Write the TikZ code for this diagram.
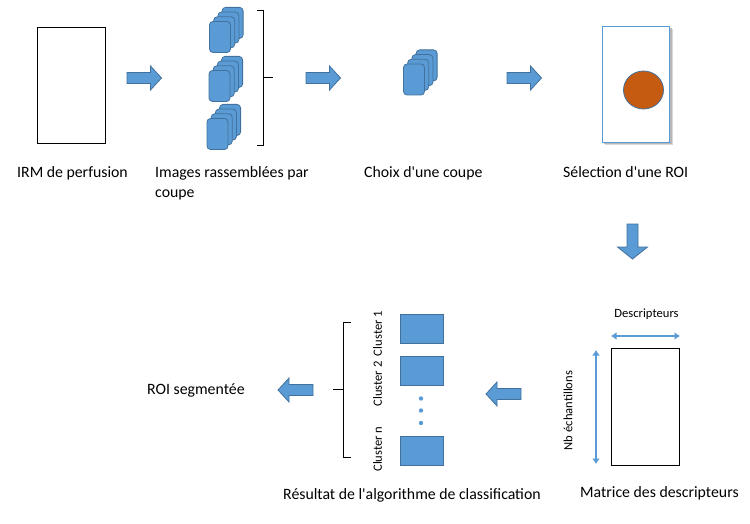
\documentclass[tikz,border=0pt]{standalone}
\usepackage{fontspec}
\setmainfont{Carlito}[Ligatures=TeXOff]
\usetikzlibrary{arrows.meta,shapes.geometric}
\definecolor{cblue}{HTML}{5B9BD5}
\definecolor{cedge}{HTML}{41719C}
\definecolor{corange}{HTML}{C55A11}
\tikzset{
  barrow/.style={fill=cblue,draw=cedge,line width=0.8pt},
  card/.style={fill=cblue,draw=cedge,line width=0.8pt,rounded corners=3.5pt},
  lbl/.style={font=\fontsize{15.8}{18}\selectfont,anchor=base west,inner sep=0pt},
  slbl/.style={font=\fontsize{12.6}{14}\selectfont,inner sep=0pt},
  frame/.style={draw=black,line width=1.3pt},
  brk/.style={draw=black,line width=0.9pt},
  dbl/.style={draw=cblue,line width=2.8pt,{Latex[length=5.5pt,width=8pt]}-{Latex[length=5.5pt,width=8pt]}},
  clus/.style={fill=cblue,draw=cedge,line width=0.8pt},
}
% right block arrow: #1 x-left, #2 x-tip, #3 y-center
\newcommand\rblock[3]{%
  \draw[barrow] (#1,#3-5.5) -- (#2-11,#3-5.5) -- (#2-11,#3-12) -- (#2,#3)
   -- (#2-11,#3+12) -- (#2-11,#3+5.5) -- (#1,#3+5.5) -- cycle;}
\newcommand\lblock[3]{%
  \draw[barrow] (#1,#3-5.5) -- (#2+11,#3-5.5) -- (#2+11,#3-12) -- (#2,#3)
   -- (#2+11,#3+12) -- (#2+11,#3+5.5) -- (#1,#3+5.5) -- cycle;}
% card stack: front card top-left #1,#2
\newcommand\cstack[2]{%
  \foreach \k in {3,2,1,0}{%
    \draw[card] (#1+4.2*\k,#2-4.7*\k) rectangle ++(21,31);}}
\begin{document}
\begin{tikzpicture}[x=1pt,y=-1pt]
\useasboundingbox[fill=white] (0,0) rectangle (750,524);

% --- top row ---
\node[frame,minimum width=68,minimum height=116,inner sep=0pt,anchor=north west] (irm) at (37,27) {};
\node[lbl] (tirm) at (17,178) {IRM de perfusion};

\rblock{127}{161.5}{78}

\cstack{209.5}{21.5}
\cstack{209}{70.5}
\cstack{207}{118.5}
\coordinate (b1) at (257,10);
\coordinate (b2) at (263,10);
\coordinate (b3) at (263,145);
\coordinate (b4) at (257,145);
\coordinate (bm) at (263,77.5);
\coordinate (bt) at (273,77.5);
\draw[brk] (b1) -- (b2) -- (b3) -- (b4);
\draw[brk] (bm) -- (bt);
\node[lbl] (timg1) at (155,178) {Images rassemblées par};
\node[lbl] (timg2) at (155,197) {coupe};

\rblock{306}{340.5}{78}

\cstack{403.5}{64}
\node[lbl] (tchoix) at (364,178) {Choix d'une coupe};

\rblock{507}{541.5}{78}

\fill[black!15] (604.5,29) rectangle (672.5,145.5);
\fill[black!28] (604,28.5) rectangle (671.5,144.5);
\node[draw=cblue,fill=white,line width=1pt,minimum width=67,minimum height=116,inner sep=0pt,anchor=north west] (roi) at (602,26) {};
\node[ellipse,fill=corange,draw=cedge,line width=0.8pt,minimum width=40,minimum height=38,inner sep=0pt] (circ) at (643.5,90) {};
\node[lbl] (tsel) at (563,178) {Sélection d'une ROI};

% down arrow
\draw[barrow] (627,224) -- (638,224) -- (638,247) -- (647.5,247) -- (632.5,259)
  -- (617.5,247) -- (627,247) -- cycle;

% --- bottom row ---
\node[slbl] (tdesc) at (646.5,314) {Descripteurs};
\coordinate (h1) at (611,336);
\coordinate (h2) at (680,336);
\draw[dbl] (h1) -- (h2);
\node[draw=black,line width=1pt,minimum width=68,minimum height=117,inner sep=0pt,anchor=north west] (mat) at (610.5,347.5) {};
\coordinate (v1) at (596,350);
\coordinate (v2) at (596,464);
\draw[dbl] (v1) -- (v2);
\node[slbl,rotate=90] (tnb) at (568,410.5) {Nb échantillons};
\node[lbl] (tmat) at (580,497) {Matrice des descripteurs};

\lblock{521}{486}{394}

\node[clus,minimum width=43,minimum height=29,inner sep=0pt,anchor=north west] (c1) at (400,314) {};
\node[clus,minimum width=43,minimum height=29,inner sep=0pt,anchor=north west] (c2) at (400,356) {};
\node[clus,minimum width=43,minimum height=29,inner sep=0pt,anchor=north west] (cn) at (400,436) {};
\foreach \yy in {398.5,410.5,423}{\fill[cblue] (421,\yy) circle (2.2);}
\node[slbl,rotate=90] (tc1) at (377.5,333.5) {Cluster 1};
\node[slbl,rotate=90] (tc2) at (377.5,384) {Cluster 2};
\node[slbl,rotate=90] (tcn) at (377.5,449) {Cluster n};
\coordinate (l1) at (351,322.5);
\coordinate (l2) at (343.5,322.5);
\coordinate (l3) at (343.5,457);
\coordinate (l4) at (351,457);
\coordinate (lm) at (343.5,389);
\coordinate (lt) at (333,389);
\draw[brk] (l1) -- (l2) -- (l3) -- (l4);
\draw[brk] (lm) -- (lt);
\node[lbl] (tres) at (283,499) {Résultat de l'algorithme de classification};

\lblock{313}{278}{390}
\node[lbl] (tseg) at (147,394) {ROI segmentée};
\end{tikzpicture}
\end{document}
